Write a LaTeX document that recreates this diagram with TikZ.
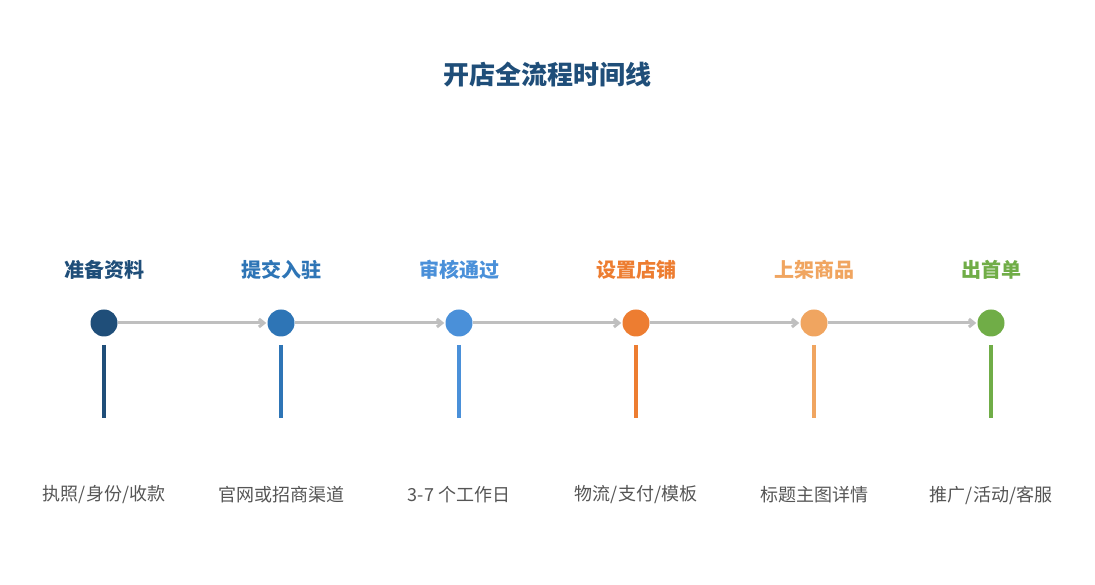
\documentclass[tikz,border=0pt]{standalone}
\usepackage{fontspec}
\setmainfont{Noto Sans CJK SC}
\usetikzlibrary{arrows.meta}
\definecolor{c1}{HTML}{1F4E79}
\definecolor{c2}{HTML}{2E75B6}
\definecolor{c3}{HTML}{4A90D9}
\definecolor{c4}{HTML}{ED7D31}
\definecolor{c5}{HTML}{F0A560}
\definecolor{c6}{HTML}{70AD47}
\definecolor{ln}{HTML}{BFBFBF}
\definecolor{tx}{HTML}{555555}
\begin{document}
\begin{tikzpicture}[x=1pt,y=1pt,
  dot/.style={circle,minimum size=27pt,inner sep=0pt},
  head/.style={font=\fontsize{20}{24}\selectfont\bfseries},
  sub/.style={font=\fontsize{18}{22}\selectfont,text=tx},
  conn/.style={ln,line width=3pt,-{Straight Barb[length=5pt,width=8pt]},shorten >=1pt}]
\useasboundingbox (0,0) rectangle (1095,585);
\node[font=\fontsize{26}{30}\selectfont\bfseries,text=c1] (title) at (547,510) {开店全流程时间线};
\foreach \i/\x/\c/\h/\s in {1/104/c1/准备资料/{执照/身份/收款},2/281/c2/提交入驻/官网或招商渠道,3/459/c3/审核通过/3-7 个工作日,4/636/c4/设置店铺/{物流/支付/模板},5/814/c5/上架商品/标题主图详情,6/991/c6/出首单/{推广/活动/客服}}{
  \node[dot,fill=\c] (d\i) at (\x,262) {};
  \node[head,text=\c] (h\i) at (\x,315) {\h};
  \node[sub] (s\i) at (\x,90) {\s};
  \coordinate (a\i) at (\x,240);
  \coordinate (b\i) at (\x,167);
  \draw[\c,line width=3.5pt] (a\i) -- (b\i);
}
\foreach \i/\j in {1/2,2/3,3/4,4/5,5/6}{
  \draw[conn] (d\i.east) -- (d\j.west);
}
\end{tikzpicture}
\end{document}
